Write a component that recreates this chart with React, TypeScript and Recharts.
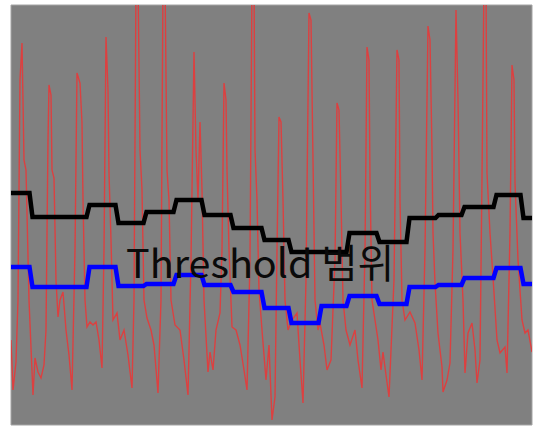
import { LineChart, Line, XAxis, YAxis, ReferenceArea } from "recharts";

// red signal: [sample, amplitude]
const signal: [number, number][] = [
  [0, 85], [2, 35], [5, 63], [7, 125], [9, 345], [11, 382], [13, 265], [15, 255], [18, 125], [22, 30],
  [24, 67], [27, 53], [30, 47], [33, 60],
  [35, 95], [37, 285], [38, 340], [40, 330], [41, 255], [43, 247], [45, 145], [47, 108], [49, 125],
  [52, 133], [55, 95], [58, 70], [61, 35],
  [64, 175], [66, 352], [69, 342], [71, 302], [72, 225], [74, 125], [76, 98], [79, 103], [82, 100],
  [85, 103], [88, 85], [91, 57],
  [93, 175], [95, 388], [97, 335], [98, 252], [100, 185], [102, 105], [106, 112], [109, 85], [113, 95],
  [117, 70], [121, 37],
  [123, 125], [125, 445], [127, 445], [129, 275], [131, 235], [133, 125], [136, 107], [140, 95],
  [143, 80], [147, 32],
  [150, 125], [152, 445], [154, 445], [156, 255], [158, 225], [160, 125], [164, 100], [169, 95],
  [173, 65], [177, 30],
  [180, 165], [183, 373], [185, 275], [187, 225], [189, 303], [191, 235], [193, 125], [197, 53],
  [199, 73], [202, 55], [205, 95], [209, 112],
  [211, 175], [213, 342], [215, 325], [216, 255], [218, 175], [221, 98], [225, 95], [229, 80],
  [233, 55], [236, 35],
  [239, 165], [241, 445], [243, 445], [244, 275], [246, 225], [248, 135], [251, 95], [255, 45],
  [258, 80], [261, 5], [264, 28],
  [266, 175], [268, 308], [270, 303], [272, 225], [274, 125], [277, 95], [281, 105], [286, 112],
  [289, 65], [292, 22],
  [295, 145], [298, 412], [300, 405], [302, 265], [304, 125], [307, 95], [309, 102], [313, 80],
  [316, 55], [320, 65],
  [324, 165], [326, 322], [328, 315], [330, 225], [332, 125], [335, 95], [339, 80], [344, 95],
  [347, 65], [351, 37],
  [354, 175], [356, 378], [358, 365], [359, 245], [361, 125], [364, 105], [367, 85], [370, 55],
  [372, 73], [375, 50], [378, 28],
  [383, 145], [386, 375], [388, 365], [389, 225], [391, 125], [394, 105], [399, 113], [404, 102],
  [408, 75], [411, 45],
  [414, 175], [417, 399], [419, 385], [421, 275], [422, 192], [424, 142], [427, 92], [431, 58],
  [432, 33], [436, 45], [439, 62],
  [442, 175], [445, 415], [447, 325], [449, 192], [452, 125], [454, 52], [457, 92], [461, 102],
  [464, 75], [466, 42], [469, 65],
  [471, 248], [473, 445], [475, 445], [476, 252], [479, 192], [482, 148], [486, 85], [489, 72],
  [494, 78], [496, 52],
  [499, 192], [501, 360], [503, 345], [504, 242], [507, 165], [511, 105], [514, 92], [517, 95],
  [521, 73],
];

// threshold windows
const stepBounds = [0, 20, 49, 77, 106, 134, 164, 192, 221, 252, 279, 309, 337, 367, 397, 426, 452, 484, 511, 521];
const upperLevels = [232, 208, 208, 220, 202, 213, 225, 210, 197, 185, 173, 173, 192, 183, 207, 210, 218, 230, 207];
const lowerLevels = [158, 138, 138, 158, 139, 141, 150, 140, 133, 117, 102, 119, 129, 121, 138, 140, 147, 157, 141];

const RAMP = 1.5;

function stepSeries(levels: number[]) {
  const pts: { t: number; v: number }[] = [];
  levels.forEach((v, i) => {
    const a = stepBounds[i] + (i > 0 ? RAMP : 0);
    const b = stepBounds[i + 1] - (i < levels.length - 1 ? RAMP : 0);
    pts.push({ t: a, v }, { t: b, v });
  });
  return pts;
}

const signalData = signal.map(([t, v]) => ({ t, v }));
const upperData = stepSeries(upperLevels);
const lowerData = stepSeries(lowerLevels);

export default function App() {
  return (
    <div style={{ position: "absolute", left: 0, top: 0, width: 535, height: 427, background: "#fff" }}>
      <LineChart width={535} height={427} margin={{ top: 5, right: 3, bottom: 2, left: 11 }}>
        <XAxis type="number" dataKey="t" domain={[0, 521]} hide allowDataOverflow />
        <YAxis type="number" domain={[0, 420]} hide allowDataOverflow />
        <ReferenceArea x1={0} x2={521} y1={0} y2={420} fill="#808080" fillOpacity={1} stroke="#a4a4a4" strokeWidth={1} />
        <Line
          data={signalData}
          dataKey="v"
          type="linear"
          stroke="#dc4040"
          strokeWidth={1.4}
          dot={false}
          isAnimationActive={false}
        />
        <Line
          data={upperData}
          dataKey="v"
          type="linear"
          stroke="#000000"
          strokeWidth={4.5}
          dot={false}
          isAnimationActive={false}
        />
        <Line
          data={lowerData}
          dataKey="v"
          type="linear"
          stroke="#0000ff"
          strokeWidth={4.5}
          dot={false}
          isAnimationActive={false}
        />
      </LineChart>
      <svg width={535} height={427} style={{ position: "absolute", left: 0, top: 0, pointerEvents: "none" }}>
        <text x={126} y={278} fontFamily="'Noto Sans CJK KR', 'Noto Sans', sans-serif" fontSize={39.5} fill="#0a0a0a">
          Threshold 범위
        </text>
      </svg>
    </div>
  );
}
